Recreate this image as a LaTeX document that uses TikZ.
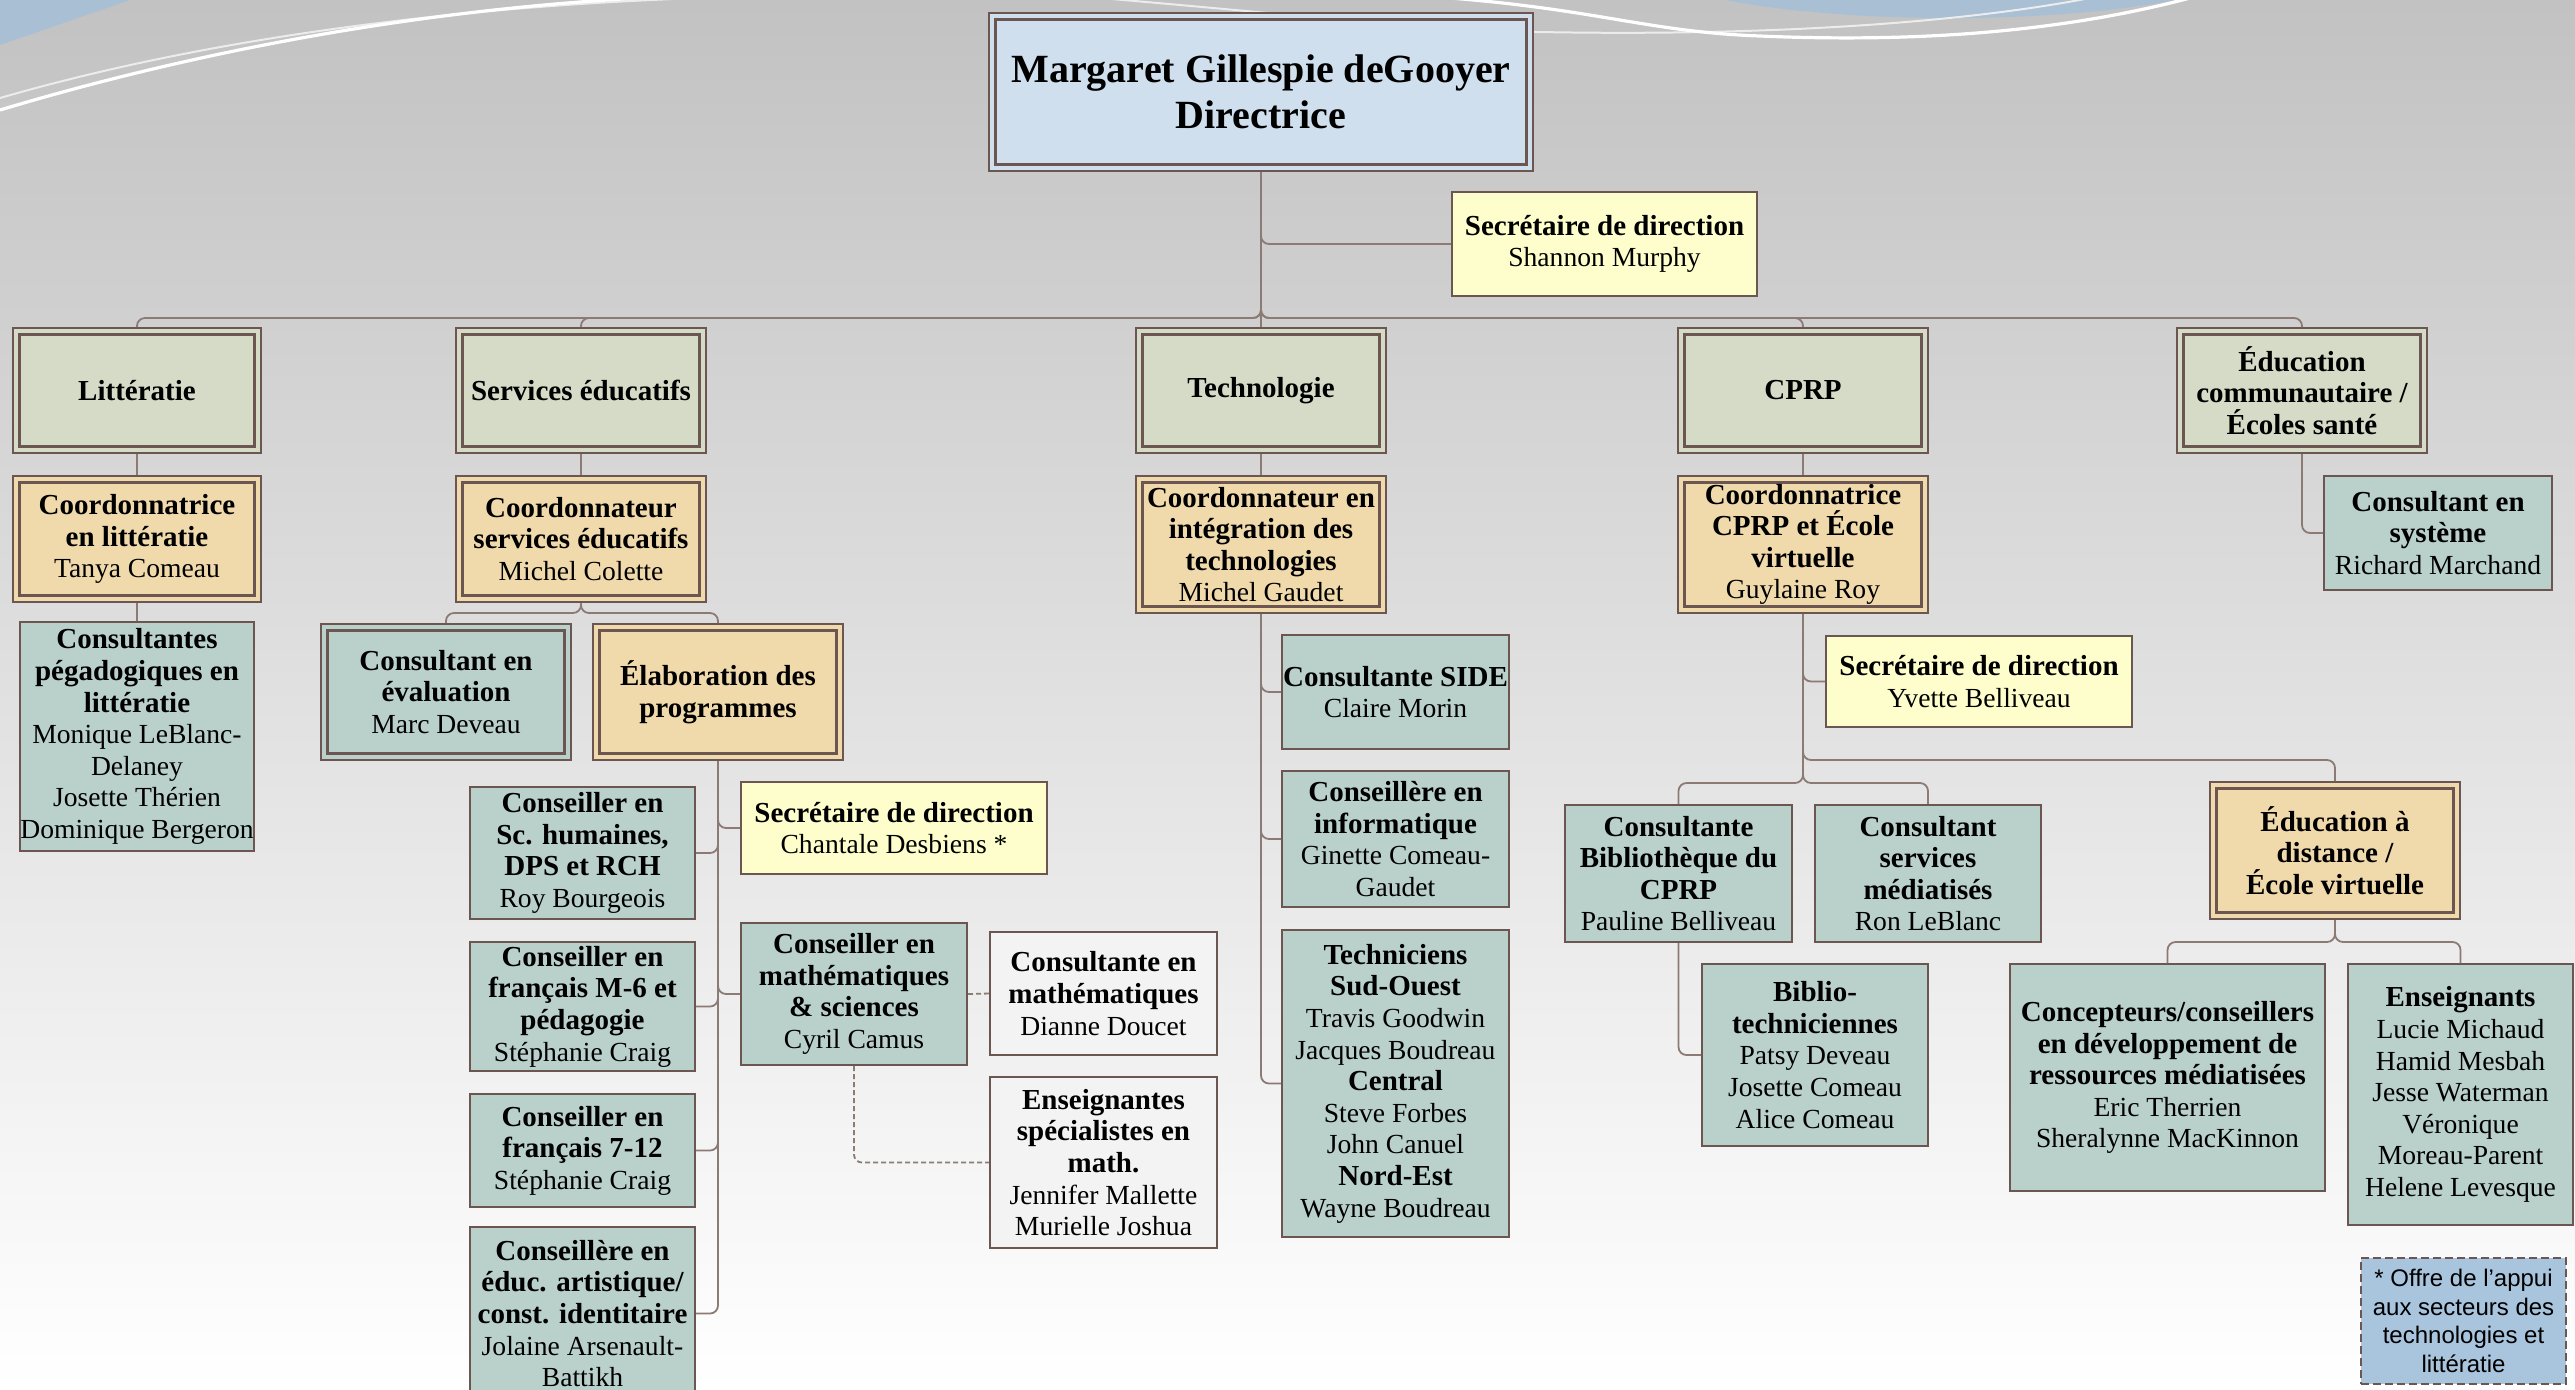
\documentclass[tikz,border=0pt]{standalone}
\usepackage{fontspec}
\setmainfont{Liberation Serif}
\newfontfamily\notefont{Liberation Sans}
\definecolor{bordc}{HTML}{6B5651}
\definecolor{connc}{HTML}{8C7A74}
\definecolor{topblue}{HTML}{D0DFEE}
\definecolor{grn}{HTML}{D6DBC7}
\definecolor{org}{HTML}{F0DAAC}
\definecolor{tealc}{HTML}{BAD1CB}
\definecolor{yel}{HTML}{FEFECC}
\definecolor{lgray}{HTML}{F3F3F3}
\definecolor{noteblue}{HTML}{A9C4DD}
\definecolor{decoblue}{HTML}{A8BFD4}
\newcommand\ttl[1]{{\fontsize{14.5}{15.8}\selectfont\bfseries #1}}
\newcommand\nme[1]{{\fontsize{13.8}{15.8}\selectfont #1}}
\newcommand\bx[7]{\node[#2, minimum width={(#5-#3)*0.5pt}, minimum height={(#6-#4)*0.5pt}] (#1) at ({(#3+#5)/2},{(#4+#6)/2}) {#7};}
\tikzset{
  box/.style={draw=bordc, line width=1pt, align=center, inner sep=0pt,
    font=\fontsize{14}{15.8}\selectfont},
  dbl/.style={path picture={\draw[bordc, line width=1.5pt]
    ([shift={(3.2pt,-3.2pt)}]path picture bounding box.north west) rectangle
    ([shift={(-3.2pt,3.2pt)}]path picture bounding box.south east);}},
  bluebox/.style={box, dbl, fill=topblue, font=\fontsize{20}{23}\selectfont\bfseries},
  grnbox/.style={box, dbl, fill=grn},
  orgbox/.style={box, dbl, fill=org},
  tealbox/.style={box, fill=tealc},
  tealdbl/.style={box, dbl, fill=tealc},
  yelbox/.style={box, fill=yel},
  graybox/.style={box, fill=lgray},
  notebox/.style={draw=bordc, line width=1pt, dash pattern=on 4pt off 2pt, fill=noteblue,
    align=center, inner sep=0pt, font=\notefont\fontsize{12}{14.3}\selectfont},
  conn/.style={draw=connc, line width=0.9pt, rounded corners=4pt},
  dconn/.style={conn, dash pattern=on 2.5pt off 1.5pt}
}
\begin{document}
\begin{tikzpicture}[x=0.5pt,y=-0.5pt]
\useasboundingbox (0,0) rectangle (2575,1389);
\clip (0,0) rectangle (2575,1389);
% background
\shade[top color={rgb,255:red,194;green,194;blue,194}, bottom color=white] (0,0) rectangle (2575,1389);
% decorations
\fill[decoblue] (0,0) -- (130,0) -- (0,45) -- cycle;
\fill[decoblue] (1950,-40) ellipse [x radius=310, y radius=58];
\draw[white!85!gray, line width=1pt] (0,98) .. controls (200,40) and (450,5) .. (730,-3);
\draw[white, line width=1.6pt] (0,110) .. controls (200,50) and (420,10) .. (640,-2);
\draw[white!85!gray, line width=1pt] (1100,-2) .. controls (1300,15) and (1450,32) .. (1540,32) .. controls (1750,36) and (1950,25) .. (2090,-2);
\draw[white, line width=1.6pt] (1450,-2) .. controls (1600,10) and (1650,32) .. (1760,36) .. controls (1900,42) and (2050,35) .. (2190,-2);
% boxes
\bx{M}{bluebox}{989}{13}{1533}{171}{Margaret Gillespie deGooyer\\Directrice}
\bx{S1}{yelbox}{1452}{192}{1757}{296}{\ttl{Secrétaire de direction}\\\nme{Shannon Murphy}}
\bx{L1a}{grnbox}{13}{328}{261}{453}{\ttl{Littératie}}
\bx{L1b}{grnbox}{456}{328}{706}{453}{\ttl{Services éducatifs}}
\bx{L1c}{grnbox}{1136}{328}{1386}{453}{\ttl{Technologie}}
\bx{L1d}{grnbox}{1678}{328}{1928}{453}{\ttl{CPRP}}
\bx{L1e}{grnbox}{2177}{328}{2427}{453}{\ttl{Éducation}\\\ttl{communautaire /}\\\ttl{Écoles santé}}
\bx{C1}{orgbox}{13}{476}{261}{602}{\ttl{Coordonnatrice}\\\ttl{en littératie}\\\nme{Tanya Comeau}}
\bx{C2}{orgbox}{456}{476}{706}{602}{\ttl{Coordonnateur}\\\ttl{services éducatifs}\\\nme{Michel Colette}}
\bx{C3}{orgbox}{1136}{476}{1386}{613}{\ttl{Coordonnateur en}\\\ttl{intégration des}\\\ttl{technologies}\\\nme{Michel Gaudet}}
\bx{C4}{orgbox}{1678}{476}{1928}{613}{\ttl{Coordonnatrice}\\\ttl{CPRP et École}\\\ttl{virtuelle}\\\nme{Guylaine Roy}}
\bx{CS}{tealbox}{2324}{476}{2552}{590}{\ttl{Consultant en}\\\ttl{système}\\\nme{Richard Marchand}}
\bx{CP}{tealbox}{23}{622}{251}{851}{\ttl{Consultantes}\\\ttl{pégadogiques en}\\\ttl{littératie}\\\nme{Monique LeBlanc-}\\\nme{Delaney}\\\nme{Josette Thérien}\\\nme{Dominique Bergeron}}
\bx{CE}{tealdbl}{321}{624}{571}{760}{\ttl{Consultant en}\\\ttl{évaluation}\\\nme{Marc Deveau}}
\bx{EP}{orgbox}{593}{624}{843}{760}{\ttl{Élaboration des}\\\ttl{programmes}}
\bx{SH}{tealbox}{470}{787}{695}{919}{\ttl{Conseiller en}\\\ttl{Sc. humaines,}\\\ttl{DPS et RCH}\\\nme{Roy Bourgeois}}
\bx{FM}{tealbox}{470}{942}{695}{1071}{\ttl{Conseiller en}\\\ttl{français M-6 et}\\\ttl{pédagogie}\\\nme{Stéphanie Craig}}
\bx{F7}{tealbox}{470}{1094}{695}{1207}{\ttl{Conseiller en}\\\ttl{français 7-12}\\\nme{Stéphanie Craig}}
\bx{EA}{tealbox}{470}{1227}{695}{1400}{\ttl{Conseillère en}\\\ttl{éduc. artistique/}\\\ttl{const. identitaire}\\\nme{Jolaine Arsenault-}\\\nme{Battikh}}
\bx{SC}{yelbox}{741}{782}{1047}{874}{\ttl{Secrétaire de direction}\\\nme{Chantale Desbiens *}}
\bx{MS}{tealbox}{741}{923}{967}{1065}{\ttl{Conseiller en}\\\ttl{mathématiques}\\\ttl{\& sciences}\\\nme{Cyril Camus}}
\bx{CM}{graybox}{990}{932}{1217}{1055}{\ttl{Consultante en}\\\ttl{mathématiques}\\\nme{Dianne Doucet}}
\bx{ES}{graybox}{990}{1077}{1217}{1248}{\ttl{Enseignantes}\\\ttl{spécialistes en}\\\ttl{math.}\\\nme{Jennifer Mallette}\\\nme{Murielle Joshua}}
\bx{SIDE}{tealbox}{1282}{635}{1509}{749}{\ttl{Consultante SIDE}\\\nme{Claire Morin}}
\bx{INF}{tealbox}{1282}{771}{1509}{907}{\ttl{Conseillère en}\\\ttl{informatique}\\\nme{Ginette Comeau-}\\\nme{Gaudet}}
\bx{TEC}{tealbox}{1282}{930}{1509}{1237}{\ttl{Techniciens}\\\ttl{Sud-Ouest}\\\nme{Travis Goodwin}\\\nme{Jacques Boudreau}\\\ttl{Central}\\\nme{Steve Forbes}\\\nme{John Canuel}\\\ttl{Nord-Est}\\\nme{Wayne Boudreau}}
\bx{SY}{yelbox}{1826}{636}{2132}{727}{\ttl{Secrétaire de direction}\\\nme{Yvette Belliveau}}
\bx{BIB}{tealbox}{1565}{805}{1792}{942}{\ttl{Consultante}\\\ttl{Bibliothèque du}\\\ttl{CPRP}\\\nme{Pauline Belliveau}}
\bx{SM}{tealbox}{1815}{805}{2041}{942}{\ttl{Consultant}\\\ttl{services}\\\ttl{médiatisés}\\\nme{Ron LeBlanc}}
\bx{BT}{tealbox}{1702}{964}{1928}{1146}{\ttl{Biblio-}\\\ttl{techniciennes}\\\nme{Patsy Deveau}\\\nme{Josette Comeau}\\\nme{Alice Comeau}}
\bx{ED}{orgbox}{2210}{782}{2460}{919}{\ttl{Éducation à}\\\ttl{distance /}\\\ttl{École virtuelle}}
\bx{CC}{tealbox}{2010}{964}{2325}{1191}{\ttl{Concepteurs/conseillers}\\\ttl{en développement de}\\\ttl{ressources médiatisées}\\\nme{Eric Therrien}\\\nme{Sheralynne MacKinnon}}
\bx{EN}{tealbox}{2348}{964}{2573}{1225}{\ttl{Enseignants}\\\nme{Lucie Michaud}\\\nme{Hamid Mesbah}\\\nme{Jesse Waterman}\\\nme{Véronique}\\\nme{Moreau-Parent}\\\nme{Helene Levesque}}
\bx{NOTE}{notebox}{2361}{1258}{2566}{1384}{* Offre de l’appui\\aux secteurs des\\technologies et\\littératie}
% connectors
\draw[conn] (M.south) |- (S1.west);
\foreach \n in {L1a,L1b,L1d,L1e} {\draw[conn] (M.south) |- (\n.north |- 0,318) -- (\n.north);}
\draw[conn] (M.south) -- (L1c.north);
\draw[conn] (L1a.south) -- (C1.north);
\draw[conn] (C1.south) -- (CP.north);
\draw[conn] (L1b.south) -- (C2.north);
\foreach \n in {CE,EP} {\draw[conn] (C2.south) |- (\n.north |- 0,613) -- (\n.north);}
\foreach \n in {SH,FM,F7,EA} {\draw[conn] (EP.south) |- (\n.east);}
\foreach \n in {SC,MS} {\draw[conn] (EP.south) |- (\n.west);}
\draw[dconn] (MS.east) -- (CM.west);
\draw[dconn] (MS.south) |- (ES.west);
\draw[conn] (L1c.south) -- (C3.north);
\foreach \n in {SIDE,INF,TEC} {\draw[conn] (C3.south) |- (\n.west);}
\draw[conn] (L1d.south) -- (C4.north);
\draw[conn] (C4.south) |- (SY.west);
\draw[conn] (C4.south) |- (ED.north |- 0,760) -- (ED.north);
\foreach \n in {BIB,SM} {\draw[conn] (C4.south) |- (\n.north |- 0,783) -- (\n.north);}
\draw[conn] (BIB.south) |- (BT.west);
\draw[conn] (L1e.south) |- (CS.west);
\foreach \n in {CC,EN} {\draw[conn] (ED.south) |- (\n.north |- 0,942) -- (\n.north);}
\end{tikzpicture}
\end{document}
